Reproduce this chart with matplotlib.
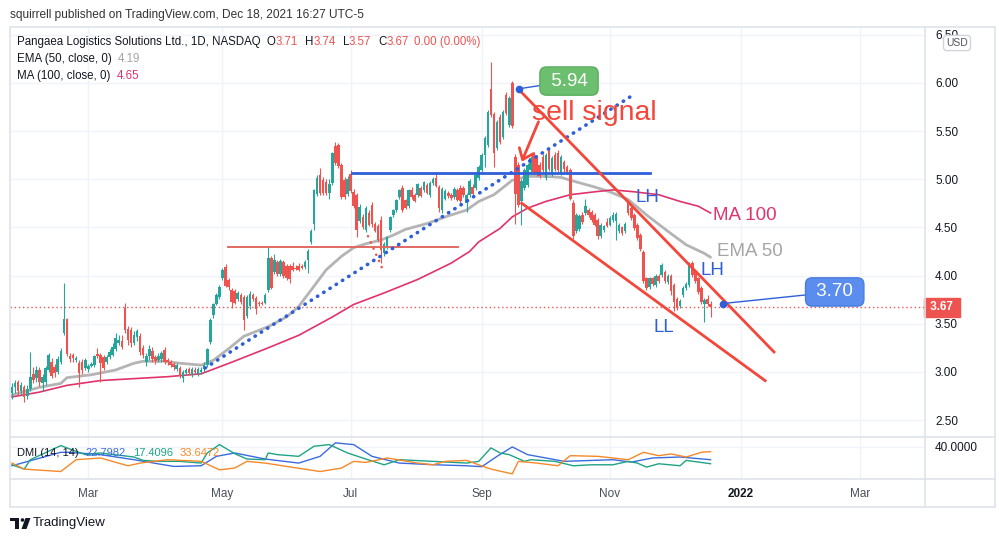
import matplotlib
matplotlib.use('Agg')
import matplotlib.pyplot as plt
import matplotlib.patches as mpatches
import matplotlib.transforms as mtransforms
import numpy as np
import pandas as pd

W, H = 999, 542

# daily candles, 22 Jan 2021 .. 17 Dec 2021
opens = [
    2.78, 2.84, 2.90, 2.80, 2.84, 2.75, 2.82, 2.98, 2.94, 3.02,
    2.88, 2.90, 3.02, 3.10, 3.05, 3.00, 3.10, 3.40, 3.55, 3.16,
    3.18, 3.12, 3.09, 3.10, 3.04, 3.03, 3.06, 3.07, 3.19, 3.18,
    3.15, 3.10, 3.15, 3.18, 3.24, 3.30, 3.32, 3.66, 3.45, 3.44,
    3.30, 3.36, 3.37, 3.25, 3.10, 3.16, 3.22, 3.15, 3.12, 3.13,
    3.23, 3.12, 3.10, 3.08, 3.03, 3.04, 2.94, 2.99, 3.03, 2.97,
    3.02, 2.98, 3.00, 3.03, 3.07, 3.31, 3.59, 3.71, 3.78, 3.97,
    4.09, 3.95, 3.85, 3.84, 3.76, 3.80, 3.78, 3.58, 3.68, 3.80,
    3.77, 3.72, 3.72, 3.72, 3.85, 4.18, 4.04, 4.14, 4.02, 4.14,
    4.10, 4.10, 4.10, 4.08, 4.10, 4.10, 4.09, 4.16, 4.35, 4.54,
    4.85, 5.04, 4.99, 4.97, 4.86, 4.96, 5.35, 5.36, 5.15, 4.99,
    4.85, 5.06, 4.87, 4.84, 4.57, 4.61, 4.47, 4.65, 4.73, 4.54,
    4.52, 4.58, 4.23, 4.31, 4.47, 4.63, 4.68, 4.82, 4.91, 4.78,
    4.72, 4.89, 4.84, 4.84, 4.91, 4.89, 4.94, 4.84, 4.96, 5.01,
    4.92, 4.68, 4.80, 4.86, 4.84, 4.82, 4.89, 4.91, 4.91, 4.75,
    4.84, 4.92, 4.91, 5.01, 5.10, 5.25, 5.36, 5.94, 5.68, 5.32,
    5.65, 5.44, 5.88, 5.56, 6.00, 5.23, 5.15, 4.77, 4.91, 4.94,
    5.10, 5.25, 5.22, 5.15, 5.23, 5.01, 5.30, 5.05, 5.25, 5.27,
    5.06, 5.18, 5.13, 5.10, 4.75, 4.46, 4.48, 4.63, 4.65, 4.68,
    4.66, 4.63, 4.58, 4.41, 4.47, 4.56, 4.53, 4.58, 4.57, 4.46,
    4.50, 4.46, 4.75, 4.70, 4.63, 4.53, 4.42, 4.25, 3.97, 3.88,
    3.97, 3.90, 4.00, 4.01, 4.04, 3.93, 4.00, 3.90, 3.76, 3.68,
    3.80, 3.87, 3.90, 4.13, 4.04, 3.97, 3.87, 3.70, 3.76, 3.71,
]
highs = [
    2.88, 2.92, 2.92, 2.90, 2.86, 2.86, 3.21, 3.05, 3.06, 3.05,
    2.98, 3.06, 3.20, 3.14, 3.08, 3.16, 3.25, 3.92, 3.56, 3.20,
    3.20, 3.16, 3.12, 3.13, 3.14, 3.08, 3.10, 3.18, 3.25, 3.20,
    3.18, 3.18, 3.24, 3.30, 3.40, 3.38, 3.38, 3.72, 3.48, 3.47,
    3.42, 3.45, 3.40, 3.28, 3.20, 3.28, 3.26, 3.18, 3.20, 3.22,
    3.26, 3.14, 3.12, 3.10, 3.09, 3.06, 3.02, 3.04, 3.05, 3.05,
    3.05, 3.05, 3.05, 3.10, 3.25, 3.56, 3.72, 3.82, 3.90, 4.08,
    4.12, 3.98, 3.87, 3.86, 3.84, 3.82, 3.80, 3.80, 3.84, 3.82,
    3.79, 3.74, 3.74, 3.82, 4.30, 4.20, 4.22, 4.16, 4.17, 4.16,
    4.12, 4.12, 4.14, 4.11, 4.13, 4.12, 4.16, 4.28, 4.48, 4.90,
    5.04, 5.12, 5.02, 5.00, 5.00, 5.28, 5.39, 5.38, 5.17, 5.02,
    5.03, 5.10, 4.90, 4.86, 4.74, 4.64, 4.72, 4.68, 4.76, 4.56,
    4.54, 4.62, 4.35, 4.41, 4.62, 4.69, 4.80, 4.90, 4.94, 4.80,
    4.90, 4.92, 4.86, 4.96, 4.93, 4.98, 4.96, 4.98, 5.02, 5.08,
    4.94, 4.92, 4.90, 4.88, 4.86, 4.92, 4.91, 4.94, 4.93, 4.86,
    5.00, 4.95, 5.06, 5.15, 5.27, 5.45, 5.72, 6.22, 5.70, 5.62,
    5.68, 5.72, 5.91, 5.86, 6.02, 5.26, 5.18, 5.00, 5.12, 5.17,
    5.24, 5.28, 5.25, 5.18, 5.26, 5.27, 5.33, 5.24, 5.28, 5.30,
    5.25, 5.20, 5.15, 5.12, 4.78, 4.65, 4.64, 4.66, 4.80, 4.70,
    4.68, 4.65, 4.60, 4.55, 4.53, 4.60, 4.62, 4.66, 4.66, 4.55,
    4.52, 4.56, 4.78, 4.72, 4.65, 4.55, 4.44, 4.27, 3.99, 3.99,
    3.99, 4.02, 4.02, 4.13, 4.06, 4.02, 4.02, 3.92, 3.78, 3.76,
    3.89, 3.93, 4.14, 4.15, 4.06, 3.99, 3.89, 3.77, 3.80, 3.74,
]
lows = [
    2.72, 2.78, 2.76, 2.76, 2.69, 2.72, 2.80, 2.88, 2.90, 2.85,
    2.80, 2.86, 3.00, 2.94, 2.95, 2.98, 3.08, 3.38, 3.17, 3.10,
    3.10, 3.10, 2.84, 2.98, 3.02, 3.00, 3.05, 3.05, 3.14, 2.90,
    3.02, 3.08, 3.13, 3.16, 3.22, 3.28, 3.24, 3.40, 3.28, 3.26,
    3.28, 3.32, 3.18, 3.14, 3.06, 3.12, 3.10, 3.08, 3.10, 3.10,
    3.08, 3.07, 3.05, 3.02, 3.01, 2.94, 2.90, 2.97, 2.97, 2.95,
    2.98, 2.96, 2.98, 3.00, 3.05, 3.29, 3.56, 3.69, 3.76, 3.95,
    3.88, 3.85, 3.66, 3.70, 3.74, 3.70, 3.44, 3.56, 3.65, 3.74,
    3.60, 3.68, 3.69, 3.70, 3.83, 3.86, 4.02, 4.00, 4.00, 3.98,
    3.95, 3.92, 4.05, 4.06, 4.05, 4.07, 4.07, 4.03, 4.33, 4.47,
    4.83, 4.84, 4.84, 4.84, 4.80, 4.94, 5.15, 5.12, 4.80, 4.80,
    4.83, 4.86, 4.70, 4.40, 4.55, 4.48, 4.45, 4.52, 4.50, 4.45,
    4.35, 4.13, 4.20, 4.28, 4.45, 4.61, 4.66, 4.80, 4.66, 4.69,
    4.70, 4.80, 4.76, 4.82, 4.82, 4.87, 4.85, 4.82, 4.94, 4.92,
    4.66, 4.65, 4.78, 4.81, 4.79, 4.80, 4.77, 4.75, 4.82, 4.66,
    4.82, 4.83, 4.89, 4.99, 5.08, 5.13, 5.34, 5.65, 5.13, 5.30,
    5.37, 5.42, 5.67, 5.54, 5.53, 4.54, 4.71, 4.53, 4.89, 4.92,
    5.08, 5.06, 5.03, 5.01, 5.08, 4.99, 5.09, 5.03, 5.09, 5.08,
    5.04, 5.08, 5.06, 4.78, 4.38, 4.44, 4.46, 4.54, 4.63, 4.61,
    4.56, 4.51, 4.38, 4.39, 4.45, 4.50, 4.51, 4.56, 4.37, 4.44,
    4.42, 4.44, 4.63, 4.58, 4.47, 4.37, 4.26, 3.92, 3.85, 3.86,
    3.89, 3.88, 3.92, 3.99, 3.92, 3.91, 3.80, 3.63, 3.64, 3.66,
    3.78, 3.85, 3.88, 3.99, 3.92, 3.81, 3.71, 3.52, 3.68, 3.57,
]
closes = [
    2.84, 2.88, 2.80, 2.86, 2.74, 2.82, 2.95, 2.92, 3.02, 2.90,
    2.95, 3.04, 3.18, 2.96, 2.99, 3.13, 3.22, 3.55, 3.19, 3.13,
    3.14, 3.14, 2.99, 3.02, 3.12, 3.06, 3.08, 3.16, 3.16, 3.09,
    3.04, 3.15, 3.21, 3.26, 3.35, 3.33, 3.26, 3.44, 3.33, 3.30,
    3.38, 3.42, 3.21, 3.18, 3.16, 3.24, 3.13, 3.11, 3.17, 3.20,
    3.10, 3.10, 3.07, 3.05, 3.07, 2.96, 3.00, 3.02, 2.99, 3.03,
    3.00, 3.03, 3.02, 3.07, 3.24, 3.54, 3.71, 3.80, 3.88, 4.06,
    3.89, 3.88, 3.73, 3.72, 3.82, 3.73, 3.54, 3.78, 3.81, 3.76,
    3.65, 3.70, 3.70, 3.80, 4.18, 3.87, 4.16, 4.02, 4.15, 4.00,
    3.97, 3.96, 4.06, 4.07, 4.06, 4.08, 4.14, 4.26, 4.46, 4.89,
    5.01, 4.86, 4.86, 4.86, 4.95, 5.27, 5.17, 5.14, 4.82, 4.82,
    5.00, 4.88, 4.72, 4.47, 4.71, 4.50, 4.70, 4.53, 4.54, 4.46,
    4.37, 4.27, 4.33, 4.40, 4.61, 4.68, 4.79, 4.89, 4.68, 4.70,
    4.89, 4.82, 4.77, 4.95, 4.83, 4.97, 4.86, 4.96, 5.00, 4.93,
    4.70, 4.90, 4.88, 4.83, 4.81, 4.90, 4.78, 4.77, 4.84, 4.84,
    4.98, 4.85, 5.04, 5.13, 5.25, 5.43, 5.70, 5.67, 5.27, 5.60,
    5.39, 5.70, 5.69, 5.84, 5.55, 4.85, 4.73, 4.98, 5.10, 5.15,
    5.22, 5.08, 5.05, 5.03, 5.10, 5.25, 5.11, 5.22, 5.11, 5.10,
    5.23, 5.11, 5.08, 4.80, 4.41, 4.63, 4.62, 4.56, 4.72, 4.63,
    4.58, 4.53, 4.41, 4.53, 4.51, 4.52, 4.60, 4.63, 4.64, 4.53,
    4.44, 4.54, 4.65, 4.60, 4.49, 4.39, 4.28, 3.94, 3.87, 3.97,
    3.91, 4.00, 3.94, 4.11, 3.94, 4.00, 3.84, 3.73, 3.66, 3.74,
    3.87, 3.91, 4.11, 4.01, 3.94, 3.83, 3.73, 3.75, 3.70, 3.67,
]

# moving averages, read at sampled bars
ema50_bar = [0, 9, 16, 18, 26, 34, 40, 43, 50, 55, 62, 66, 71, 76, 84, 90, 94, 99,
             103, 108, 112, 116, 121, 125, 129, 136, 143, 149, 153, 158, 164, 169,
             175, 180, 183, 191, 196, 202, 208, 215, 221, 227, 229]
ema50_val = [2.76, 2.84, 2.88, 2.94, 2.97, 3.02, 3.09, 3.11, 3.11, 3.09, 3.07, 3.12,
             3.24, 3.37, 3.47, 3.57, 3.68, 3.89, 4.06, 4.20, 4.29, 4.33, 4.37, 4.42,
             4.48, 4.54, 4.62, 4.68, 4.77, 4.84, 4.99, 5.03, 5.03, 5.02, 4.99, 4.92,
             4.87, 4.79, 4.63, 4.46, 4.32, 4.23, 4.19]
ma100_bar = [0, 9, 18, 29, 40, 51, 62, 72, 84, 94, 105, 112, 122, 133, 144, 150, 153,
             160, 164, 169, 175, 183, 191, 197, 204, 212, 219, 225, 229]
ma100_val = [2.74, 2.79, 2.86, 2.91, 2.93, 2.95, 2.98, 3.10, 3.25, 3.38, 3.57, 3.70,
             3.82, 3.96, 4.13, 4.25, 4.35, 4.49, 4.61, 4.70, 4.77, 4.84, 4.87, 4.89,
             4.87, 4.84, 4.77, 4.72, 4.65]

# DMI (14, 14), read at sampled bars
dmi_blue_bar = [0, 16, 19, 29, 40, 53, 62, 67, 73, 83, 94, 101, 106, 112, 118, 127,
                138, 149, 154, 159, 164, 169, 181, 197, 203, 210, 219, 229]
dmi_blue_val = [14.7, 32.7, 32.7, 29.6, 22.8, 13.8, 14.7, 27.3, 31.8, 23.7, 18.3,
                27.3, 45.3, 43.0, 27.3, 18.3, 16.1, 14.7, 13.5, 27.3, 39.9, 29.6,
                20.6, 22.8, 19.6, 25.1, 26.4, 22.7982]
dmi_teal_bar = [0, 4, 6, 16, 18, 24, 29, 40, 43, 48, 55, 62, 64, 68, 73, 77, 83, 84,
                87, 94, 99, 104, 110, 116, 122, 127, 138, 149, 153, 157, 160, 163,
                168, 170, 178, 184, 190, 197, 202, 205, 208, 212, 219, 221, 229]
dmi_teal_val = [16.0, 10.2, 22.8, 41.7, 38.6, 29.6, 31.8, 26.4, 21.9, 20.6, 20.6,
                18.3, 31.8, 43.0, 30.9, 23.7, 22.8, 31.8, 29.6, 27.3, 40.8, 43.0,
                31.8, 23.7, 16.0, 22.8, 20.6, 18.3, 20.6, 38.6, 31.8, 29.6, 20.6,
                22.8, 20.6, 14.7, 16.0, 16.0, 20.6, 18.3, 12.9, 17.4, 14.7, 21.9,
                17.4096]
dmi_orange_bar = [0, 4, 16, 21, 29, 38, 42, 51, 62, 68, 73, 77, 83, 90, 101, 108, 112,
                  116, 123, 133, 138, 142, 149, 156, 158, 164, 166, 172, 179, 183, 192,
                  197, 202, 207, 212, 216, 221, 226, 229]
dmi_orange_val = [18.3, 10.2, 7.0, 22.8, 25.1, 14.7, 18.3, 22.8, 20.6, 9.3, 11.6, 20.6,
                  18.3, 13.8, 7.0, 11.6, 20.6, 19.2, 25.1, 18.3, 16.0, 20.6, 21.9, 11.6,
                  9.3, 3.9, 20.6, 18.3, 14.7, 28.2, 27.3, 25.1, 22.8, 32.7, 28.2, 30.5,
                  26.4, 32.7, 33.6472]

holidays = ['2021-02-15', '2021-04-02', '2021-05-31', '2021-07-05', '2021-09-06',
            '2021-11-25', '2021-12-24', '2022-01-17', '2022-02-21']
tick_months = ['2021-03', '2021-05', '2021-07', '2021-09', '2021-11', '2022-01', '2022-03']
tick_labels = ['Mar', 'May', 'Jul', 'Sep', 'Nov', '2022', 'Mar']
price_ticks = [2.5, 3.0, 3.5, 4.0, 4.5, 5.0, 5.5, 6.0, 6.5]
last_price = 3.67

GREEN = '#26a69a'
RED = '#ef5350'
LINE_RED = '#f2473a'
BLUE = '#2f5fd8'
TXT = '#131722'
GRID = '#f0f3fa'
FRAME = '#e0e3eb'

plt.rcParams['font.family'] = ['Liberation Sans', 'DejaVu Sans']

days = pd.bdate_range('2021-01-22', '2022-04-29')
days = days[~days.isin(pd.to_datetime(holidays))]
months = days.strftime('%Y-%m')
tick_pos = [int(np.argmax(months == m)) for m in tick_months]

fig = plt.figure(figsize=(W / 100, H / 100), dpi=100)
fig.patch.set_facecolor('white')


def fx(px):
    return px / W


def fy(py):
    return 1 - py / H


xlim = (-0.66, 299.3)
ax = fig.add_axes([fx(10), fy(436.5), fx(925) - fx(10), fy(27) - fy(436.5)])
dm = fig.add_axes([fx(10), fy(479), fx(925) - fx(10), fy(437.5) - fy(479)])

# ---- price panel ----
o = np.array(opens)
hi = np.array(highs)
lo = np.array(lows)
c = np.array(closes)
x = np.arange(len(c))
cols = np.where(c >= o, GREEN, RED)
ax.vlines(x, lo, hi, colors=cols, lw=0.8, zorder=3)
ax.bar(x, np.maximum(np.abs(c - o), 0.012), bottom=np.minimum(o, c), width=0.84,
       color=cols, lw=0, zorder=3)

ax.plot(ema50_bar, ema50_val, color='#b4b4b4', lw=2.0, zorder=2, solid_capstyle='round')
ax.plot(ma100_bar, ma100_val, color='#e0336b', lw=1.2, zorder=2)
ax.axhline(last_price, color=RED, lw=1, linestyle=(0, (1, 2)), zorder=1)

# drawings
ax.plot([70.8, 146.2], [4.297, 4.297], color='#e06a62', lw=1.4, zorder=4)
ax.plot([111.5, 209.2], [5.065, 5.065], color=BLUE, lw=2, zorder=4)
ax.plot([63.3, 202.6], [3.04, 5.855], color=BLUE, lw=2.6, linestyle=(0, (0.1, 1.95)),
        dash_capstyle='round', zorder=4)
ax.plot([116.7, 121.3], [4.41, 4.08], color=RED, lw=1.8, linestyle=(0, (0.1, 2.6)),
        dash_capstyle='round', zorder=4)
ax.plot([166.2, 249.8], [5.93, 3.207], color=LINE_RED, lw=2, zorder=4)
ax.plot([167.1, 246.9], [4.751, 2.909], color=LINE_RED, lw=2, zorder=4)
ax.annotate('', xy=(167.1, 5.183), xytext=(172.6, 5.598),
            arrowprops=dict(arrowstyle='->,head_length=0.7,head_width=0.55',
                            color=LINE_RED, lw=2, shrinkA=0, shrinkB=0), zorder=5)
ax.text(170.5, 5.616, 'sell signal', color=LINE_RED, fontsize=20.5, va='baseline', zorder=5)

ax.plot([166.2, 233.0], [5.94, 3.71], 'o', ms=4.5, color=BLUE, zorder=6)
ax.annotate(' 5.94 ', xy=(166.2, 5.94), xytext=(182.6, 6.02), color='white', fontsize=13.5,
            ha='center', va='center', zorder=6,
            bbox=dict(boxstyle='round,pad=0.3,rounding_size=0.35', fc='#6cbf6f', ec='#5cad60'),
            arrowprops=dict(arrowstyle='-', color=BLUE, lw=1, shrinkA=0, shrinkB=0))
ax.annotate(' 3.70 ', xy=(233.0, 3.71), xytext=(269.7, 3.83), color='white', fontsize=13.5,
            ha='center', va='center', zorder=6,
            bbox=dict(boxstyle='round,pad=0.3,rounding_size=0.35', fc='#5b8def', ec='#4a7be0'),
            arrowprops=dict(arrowstyle='-', color=BLUE, lw=1, shrinkA=0, shrinkB=0))

for bx, by, lab, col in [(204.3, 4.764, 'LH', BLUE), (225.6, 4.006, 'LH', BLUE),
                         (210.2, 3.414, 'LL', BLUE), (229.8, 4.577, 'MA 100', '#e0336b'),
                         (231.1, 4.204, 'EMA 50', '#a5a5a5')]:
    ax.text(bx, by, lab, color=col, fontsize=13.5, va='baseline', ha='left', zorder=5)

ax.set_xlim(*xlim)
ax.set_ylim(2.329, 6.5815)
ax.set_xticks(tick_pos)
ax.set_yticks(price_ticks)
ax.set_yticklabels([f'{v:.2f}' for v in price_ticks])
ax.yaxis.tick_right()
ax.tick_params(axis='y', length=0, pad=7.2, labelsize=8.5, labelcolor=TXT)
ax.tick_params(axis='x', length=0, labelbottom=False)
ax.grid(True, color=GRID, lw=1, zorder=0)
ax.set_axisbelow(True)
for s in ax.spines.values():
    s.set_visible(False)

trans = mtransforms.blended_transform_factory(ax.transAxes, ax.transData)
ax.text(1.0 + 2.5 / 915, last_price, ' 3.67 ', transform=trans, color='white', fontsize=8.5,
        fontweight='bold', ha='left', va='center', zorder=7,
        bbox=dict(boxstyle='square,pad=0.28', fc=RED, ec=RED))

# ---- DMI panel ----
dm.plot(dmi_blue_bar, dmi_blue_val, color='#3b6be0', lw=1)
dm.plot(dmi_teal_bar, dmi_teal_val, color='#1fa386', lw=1)
dm.plot(dmi_orange_bar, dmi_orange_val, color='#f5892a', lw=1)
dm.set_xlim(*xlim)
dm.set_ylim(-3, 52.5)
dm.set_yticks([40])
dm.set_yticklabels(['40.0000'])
dm.yaxis.tick_right()
dm.tick_params(axis='y', length=0, pad=7.2, labelsize=8.5, labelcolor=TXT)
dm.set_xticks(tick_pos)
dm.set_xticklabels(tick_labels)
dm.tick_params(axis='x', length=0, pad=6.5, labelsize=8.5, labelcolor='#4a4e5a')
dm.get_xticklabels()[5].set_fontweight('bold')
dm.get_xticklabels()[5].set_color(TXT)
dm.grid(True, color=GRID, lw=1)
for s in dm.spines.values():
    s.set_visible(False)

# ---- frame, texts ----
ov = fig.add_axes([0, 0, 1, 1], zorder=5)
ov.set_xlim(0, W)
ov.set_ylim(H, 0)
ov.axis('off')
ov.patch.set_alpha(0)
ov.add_patch(mpatches.Rectangle((10, 27), 985, 480, fill=False, ec=FRAME, lw=1.2))
ov.plot([925, 925], [27, 507], color=FRAME, lw=1.2)
ov.plot([10, 995], [437, 437], color=FRAME, lw=1.2)
ov.plot([10, 995], [479, 479], color=FRAME, lw=1.2)
# TradingView logo
ov.add_patch(mpatches.Rectangle((10, 518), 9, 3.2, color=TXT, lw=0))
ov.add_patch(mpatches.Rectangle((15, 518), 4, 11, color=TXT, lw=0))
ov.add_patch(mpatches.Circle((22.5, 520), 1.8, color=TXT, lw=0))
ov.add_patch(mpatches.Polygon([(25.5, 518), (30.5, 518), (26.5, 529), (21.5, 529)],
                              color=TXT, lw=0))

fig.text(fx(33), fy(523), 'TradingView', fontsize=9.5, color=TXT, va='center')
fig.text(fx(10), fy(15), 'squirrell published on TradingView.com, Dec 18, 2021 16:27 UTC-5',
         fontsize=8.6, color='#333333', va='center')
fig.text(fx(957), fy(43), 'USD', fontsize=7.5, color='#50535e', ha='center', va='center',
         bbox=dict(boxstyle='round,pad=0.25,rounding_size=0.3', fc='white', ec='#d1d4dc'))

renderer = fig.canvas.get_renderer()


def text_row(px, py, parts, size=8.3):
    for s, col, gap in parts:
        t = fig.text(fx(px), fy(py), s, color=col, fontsize=size, ha='left', va='center')
        px += t.get_window_extent(renderer).width + gap


text_row(17, 42, [('Pangaea Logistics Solutions Ltd., 1D, NASDAQ', TXT, 6),
                  ('O', TXT, 0), ('3.71', RED, 7), ('H', TXT, 0), ('3.74', RED, 7),
                  ('L', TXT, 0), ('3.57', RED, 7), ('C', TXT, 0), ('3.67', RED, 5),
                  ('0.00 (0.00%)', RED, 0)])
text_row(17, 59, [('EMA (50, close, 0)', TXT, 6), ('4.19', '#a5a5a5', 0)])
text_row(17, 76, [('MA (100, close, 0)', TXT, 6), ('4.65', '#e0336b', 0)])
text_row(17, 453, [('DMI (14, 14)', TXT, 7), ('22.7982', '#3b6be0', 7),
                   ('17.4096', '#1fa386', 7), ('33.6472', '#f5892a', 0)], size=8)

fig.savefig('out.png', dpi=100, facecolor='white')
